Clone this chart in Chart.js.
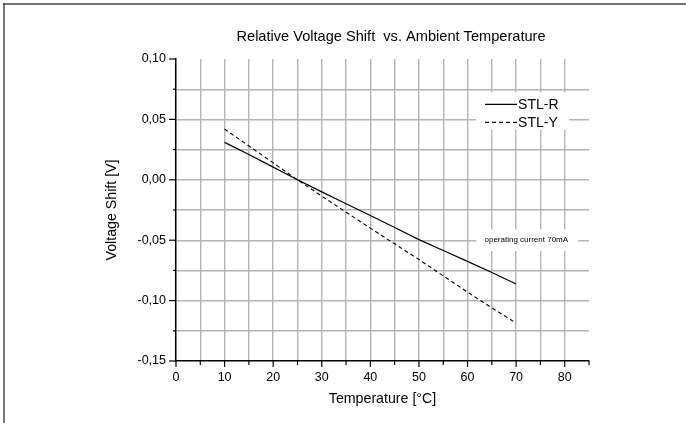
<!DOCTYPE html>
<html>
<head>
<meta charset="utf-8">
<script src="https://cdn.jsdelivr.net/npm/chart.js@4.4.1/dist/chart.umd.min.js"></script>
<style>
  html, body { margin: 0; padding: 0; background: #fff; }
  #wrap { width: 686px; height: 423px; }
</style>
</head>
<body>
<div id="wrap"><canvas id="chart"></canvas></div>
<script>
// temperature in °C, voltage shift in V
const temperatures = [10, 15, 20, 25, 30, 35, 40, 45, 50, 55, 60, 65, 70];
const stlR = [0.031, 0.021, 0.0105, 0.0, -0.0100, -0.0198, -0.0296, -0.0395, -0.0495, -0.0585, -0.0675, -0.0768, -0.0862];
const stlY = [0.042, 0.028, 0.014, 0.0, -0.0135, -0.0268, -0.040, -0.053, -0.066, -0.0795, -0.093, -0.106, -0.1186];
const seriesNames = ["STL-R", "STL-Y"];
const xLabelTicks = [0, 10, 20, 30, 40, 50, 60, 70, 80];
const yLabelTicks = [0.10, 0.05, 0.00, -0.05, -0.10, -0.15];

const chartTitle = "Relative Voltage Shift  vs. Ambient Temperature";
const noteText = "operating current 70mA";

const gridGray = "#b4b4b4";
const fontFamily = "Arial, 'Liberation Sans', sans-serif";
Chart.defaults.font.family = fontFamily;
Chart.defaults.color = "#000";

function near(a, b) { return Math.abs(a - b) < 1e-6; }
function fmtComma(v) {
  const r = Math.round(v * 1000) / 1000;
  return (r === 0 ? 0 : r).toFixed(2).replace(".", ",");
}

const decor = {
  id: "decor",
  beforeDraw(chart) {
    const c = chart.ctx;
    c.save();
    c.fillStyle = "#fff";
    c.fillRect(0, 0, chart.width, chart.height);
    c.restore();
  },
  beforeDatasetsDraw(chart) {
    const c = chart.ctx;
    const xs = chart.scales.x, ys = chart.scales.y;
    c.save();
    // legend box
    const lx0 = xs.getPixelForValue(61.8), lx1 = xs.getPixelForValue(80.9);
    const ly0 = ys.getPixelForValue(0.0725), ly1 = ys.getPixelForValue(0.0415);
    c.fillStyle = "#fff";
    c.fillRect(lx0, ly0, lx1 - lx0, ly1 - ly0);
    const ds = chart.data.datasets;
    const rows = [ys.getPixelForValue(0.0625), ys.getPixelForValue(0.0475)];
    const segA = xs.getPixelForValue(63.6), segB = xs.getPixelForValue(70.2);
    c.font = "14px " + fontFamily;
    c.textBaseline = "middle";
    c.textAlign = "left";
    ds.forEach((d, i) => {
      c.beginPath();
      c.strokeStyle = "#000";
      c.lineWidth = 1.2;
      c.setLineDash(d.borderDash || []);
      c.moveTo(segA, rows[i]);
      c.lineTo(segB, rows[i]);
      c.stroke();
      c.setLineDash([]);
      c.fillStyle = "#000";
      c.fillText(d.label, segB + 1, rows[i] + 0.5);
    });
    // note box
    const nx0 = xs.getPixelForValue(61.8), nx1 = xs.getPixelForValue(82.8);
    const ny0 = ys.getPixelForValue(-0.041), ny1 = ys.getPixelForValue(-0.059);
    c.fillStyle = "#fff";
    c.fillRect(nx0, ny0, nx1 - nx0, ny1 - ny0);
    c.fillStyle = "#000";
    c.font = "8px " + fontFamily;
    c.textAlign = "center";
    c.fillText(noteText, (nx0 + nx1) / 2 - 1, ys.getPixelForValue(-0.05));
    c.restore();
  },
  afterDraw(chart) {
    const c = chart.ctx;
    const xs = chart.scales.x, ys = chart.scales.y;
    const area = chart.chartArea;
    c.save();
    c.strokeStyle = "#000";
    c.lineWidth = 1.2;
    // tick marks
    xs.ticks.forEach(t => {
      const px = xs.getPixelForValue(t.value);
      const len = xLabelTicks.some(v => near(v, t.value)) ? 6 : 4;
      c.beginPath();
      c.moveTo(px, area.bottom);
      c.lineTo(px, area.bottom + len);
      c.stroke();
    });
    ys.ticks.forEach(t => {
      const py = ys.getPixelForValue(t.value);
      const len = yLabelTicks.some(v => near(v, t.value)) ? 7 : 3;
      c.beginPath();
      c.moveTo(area.left, py);
      c.lineTo(area.left - len, py);
      c.stroke();
    });
    // chart title
    c.fillStyle = "#000";
    c.font = "14.6px " + fontFamily;
    c.textAlign = "center";
    c.textBaseline = "middle";
    c.fillText(chartTitle, 391, 37);
    // frame edges (top and left only)
    c.strokeStyle = "#4a4a4a";
    c.lineWidth = 1.5;
    c.beginPath();
    c.moveTo(3, 4);
    c.lineTo(chart.width, 4);
    c.moveTo(4, 3);
    c.lineTo(4, chart.height);
    c.stroke();
    c.restore();
  }
};

const data = {
  datasets: [
    {
      label: seriesNames[0],
      data: temperatures.map((t, i) => ({ x: t, y: stlR[i] })),
      borderColor: "#000",
      borderWidth: 1.2,
      pointRadius: 0,
      tension: 0,
      fill: false,
    },
    {
      label: seriesNames[1],
      data: temperatures.map((t, i) => ({ x: t, y: stlY[i] })),
      borderColor: "#000",
      borderWidth: 1.1,
      borderDash: [4, 3],
      pointRadius: 0,
      tension: 0,
      fill: false,
    },
  ],
};

const config = {
  type: "line",
  data: data,
  options: {
    responsive: true,
    maintainAspectRatio: false,
    animation: false,
    layout: { padding: { left: 92, right: 97, top: 59, bottom: 0 } },
    plugins: {
      legend: { display: false },
      title: { display: false },
      tooltip: { enabled: false },
    },
    scales: {
      x: {
        type: "linear",
        min: 0,
        max: 85,
        ticks: {
          stepSize: 5,
          autoSkip: false,
          maxRotation: 0,
          padding: 3,
          font: { size: 12.5 },
          callback: v => (xLabelTicks.some(t => near(t, v)) ? String(v) : ""),
        },
        grid: {
          color: ctx => (ctx.tick && (near(ctx.tick.value, 0) || near(ctx.tick.value, 85)) ? "rgba(0,0,0,0)" : gridGray),
          lineWidth: 1.4,
          tickLength: 6,
          tickColor: "rgba(0,0,0,0)",
        },
        border: { display: true, color: "#000", width: 1.5 },
        title: { display: true, text: "Temperature [°C]", font: { size: 14.2 }, padding: { top: 2, bottom: 15 } },
        afterFit: s => { s.height = 62; },
      },
      y: {
        type: "linear",
        min: -0.15,
        max: 0.10,
        ticks: {
          stepSize: 0.025,
          autoSkip: false,
          padding: 3,
          font: { size: 12.5 },
          callback: v => (yLabelTicks.some(t => near(t, v)) ? fmtComma(v) : ""),
        },
        grid: {
          color: ctx => (ctx.tick && (near(ctx.tick.value, -0.15) || near(ctx.tick.value, 0.10)) ? "rgba(0,0,0,0)" : gridGray),
          lineWidth: 1.4,
          tickLength: 7,
          tickColor: "rgba(0,0,0,0)",
        },
        border: { display: true, color: "#000", width: 1.5 },
        title: { display: true, text: "Voltage Shift [V]", font: { size: 14.2 }, padding: { top: 12, bottom: 0 } },
        afterFit: s => { s.width = 84; },
      },
    },
  },
  plugins: [decor],
};

const myChart = new Chart(document.getElementById("chart"), config);
</script>
</body>
</html>
